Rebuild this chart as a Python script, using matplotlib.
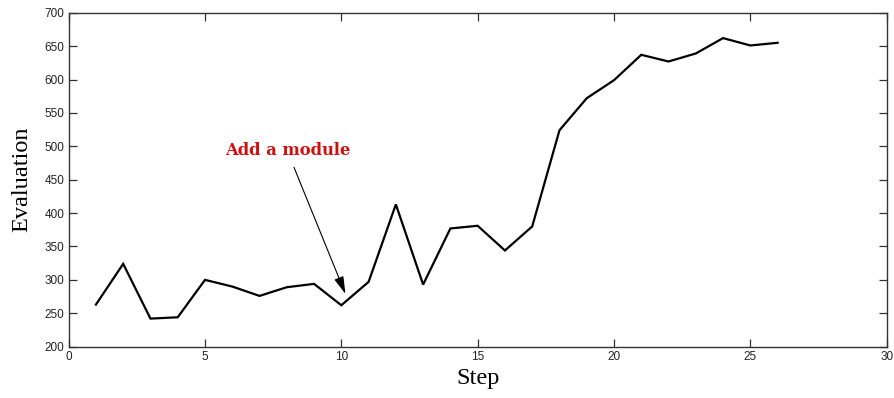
import matplotlib
matplotlib.use("Agg")
import matplotlib.pyplot as plt

# Evaluation score recorded at each step
steps = list(range(1, 27))
evaluation = [263, 324, 242, 244, 300, 290, 276, 289, 294, 262,
              297, 413, 293, 377, 381, 344, 380, 524, 572, 599,
              637, 627, 639, 662, 651, 655]

x_ticks = [0, 5, 10, 15, 20, 25, 30]
y_ticks = [200, 250, 300, 350, 400, 450, 500, 550, 600, 650, 700]

annot_text = "Add a module"
annot_text_xy = (8.02, 493)
annot_target = (10.15, 279)

fig = plt.figure(figsize=(8.94, 3.98), dpi=100)
ax = fig.add_axes([0.0768, 0.129, 0.915, 0.839])

ax.plot(steps, evaluation, color="black", lw=1.6, solid_joinstyle="miter")

ax.set_xlim(0, 30)
ax.set_ylim(200, 700)
ax.set_xticks(x_ticks)
ax.set_yticks(y_ticks)

axis_color = "#333333"
for sp in ax.spines.values():
    sp.set_color(axis_color)
    sp.set_linewidth(1.0)
ax.tick_params(direction="in", length=5.5, width=0.9, color=axis_color,
               top=True, right=True, labelsize=8.5, labelcolor="#222222",
               pad=3)
for lab in ax.get_xticklabels() + ax.get_yticklabels():
    lab.set_family("Liberation Sans")

ax.set_xlabel("Step", family="Liberation Serif", fontsize=17.5, labelpad=4)
ax.set_ylabel("Evaluation", family="Liberation Serif", fontsize=17.5, labelpad=9)

ax.annotate(annot_text, xy=annot_target, xytext=annot_text_xy,
            ha="center", va="center", color="#cc1111",
            family="DejaVu Serif", fontweight="bold", fontsize=11.8,
            arrowprops=dict(arrowstyle="-|>,head_length=0.9,head_width=0.25",
                            color="black", lw=0.8, shrinkA=4, shrinkB=0))

fig.savefig("out.png", dpi=100)
